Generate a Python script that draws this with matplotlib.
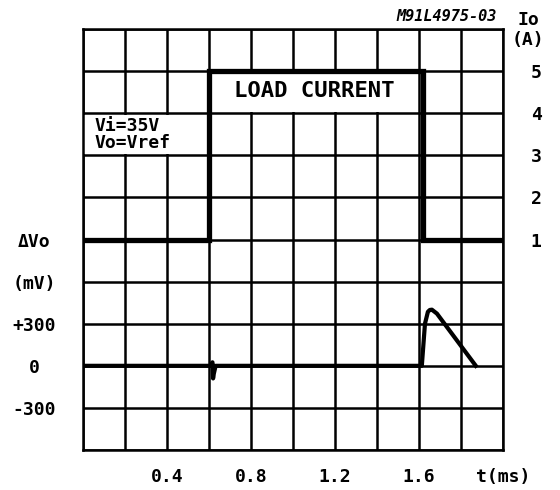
import numpy as np
import matplotlib
matplotlib.use("Agg")
import matplotlib.pyplot as plt
from matplotlib.patches import Rectangle

# load current step (A) vs time (ms)
t_io = [0.0, 0.6, 0.6, 1.62, 1.62, 2.0]
io_a = [1, 1, 5, 5, 1, 1]

# output voltage deviation (mV) vs time (ms)
t_dvo = [0.0, 0.61, 0.617, 0.62, 0.623, 0.632, 1.614, 1.629, 1.643, 1.652, 1.662,
         1.686, 1.871]
dvo_mv = [0, 0, 25, -90, -60, 0, 0, 300, 385, 398, 400, 372, 0]

x_ticks = [0.4, 0.8, 1.2, 1.6, 2.0]
x_labels = ["0.4", "0.8", "1.2", "1.6", "t(ms)"]
v_ticks = [-300, 0, 300, 600, 900]
v_labels = ["-300", "0", "+300", "(mV)", "\u0394Vo"]
i_ticks = [1, 2, 3, 4, 5]

font = {"family": "DejaVu Sans Mono", "weight": "bold"}

fig = plt.figure(figsize=(5.6, 4.9), dpi=100)
ax = fig.add_axes([0.148, 0.0816, 0.75, 0.8592])
ax.set_xlim(0, 2.0)
ax.set_ylim(-600, 2400)

# 10 x 10 grid
ax.set_xticks(np.arange(0, 2.01, 0.2), minor=True)
ax.set_yticks(np.arange(-600, 2401, 300), minor=True)
ax.grid(which="both", color="black", linewidth=1.8)
ax.set_axisbelow(True)
for s in ax.spines.values():
    s.set_linewidth(1.8)

ax.set_xticks(x_ticks)
ax.set_xticklabels(x_labels, fontsize=13, **font)
ax.set_yticks(v_ticks)
ax.set_yticklabels(v_labels, fontsize=13, ha="center", **font)
ax.tick_params(which="both", length=0)
ax.tick_params(axis="x", pad=13)
ax.tick_params(axis="y", pad=35)

# white boxes behind annotations
ax.add_patch(Rectangle((0.006, 1512), 0.588, 276, facecolor="white",
                       edgecolor="none", zorder=1.5))
ax.add_patch(Rectangle((0.61, 1812), 0.98, 276, facecolor="white",
                       edgecolor="none", zorder=1.5))
ax.text(1.1, 1955, "LOAD CURRENT", ha="center", va="center", fontsize=16,
        zorder=2, **font)
ax.text(0.055, 1650, "Vi=35V\nVo=Vref", ha="left", va="center", fontsize=13,
        linespacing=0.95, zorder=2, **font)

ax.plot(t_dvo, dvo_mv, color="black", linewidth=3, solid_joinstyle="round",
        zorder=3)

# current scale on the right
ax2 = ax.twinx()
ax2.set_ylim(-4, 6)
ax2.set_yticks(i_ticks)
ax2.set_yticklabels([str(i) for i in i_ticks], fontsize=13, ha="center", **font)
ax2.tick_params(length=0, pad=24)
for s in ax2.spines.values():
    s.set_visible(False)
ax2.plot(t_io, io_a, color="black", linewidth=3.8, solid_joinstyle="miter")

ax2.text(1.06, 1.0, "Io", transform=ax.transAxes, ha="center", va="bottom",
         fontsize=13, **font)
ax2.text(1.06, 0.995, "(A)", transform=ax.transAxes, ha="center", va="top",
         fontsize=13, **font)
ax.text(0.985, 1.012, "M91L4975-03", transform=ax.transAxes, ha="right",
        va="bottom", fontsize=11, style="italic", family="DejaVu Sans Mono",
        weight="bold")

fig.savefig("out.png", dpi=100, facecolor="white")
